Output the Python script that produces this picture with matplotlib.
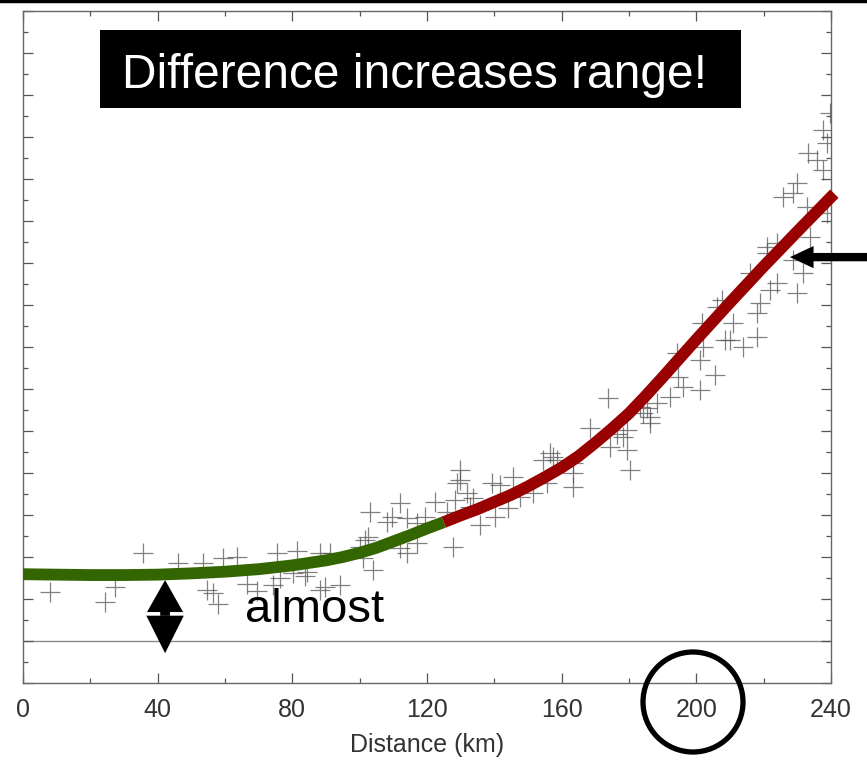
import matplotlib
matplotlib.use('Agg')
import matplotlib.pyplot as plt
from matplotlib.patches import Rectangle, Ellipse

plt.rcParams['font.family'] = ['Liberation Sans', 'DejaVu Sans']

# ---- data ----
scatter_km = [8.0, 24.4, 27.3, 35.6, 46.0, 53.5, 59.4, 63.6, 54.6, 56.4, 57.9,
              66.5, 69.5, 75.4, 81.4, 80.2, 74.3, 83.8, 76.3, 88.2, 91.2, 88.2,
              94.1, 84.3, 89.7,
              100.1, 101.0, 101.6, 102.5, 103.1, 104.0, 108.1, 109.6, 112.0, 114.0,
              117.0, 119.4, 122.4, 112.0, 114.0, 117.0, 125.9, 129.8, 129.8, 128.9,
              131.9, 133.7, 128.3, 127.7, 132.8, 135.7, 139.3, 141.7, 145.5, 140.2,
              144.0, 147.6, 151.5, 155.6, 154.4, 157.4, 156.5, 158.6, 163.4, 163.4,
              163.4,
              168.4, 173.7, 174.3, 176.4, 178.2, 179.4, 180.3, 179.4, 184.1, 185.3,
              186.2, 188.3, 192.2, 196.0, 201.1, 186.2, 183.3, 194.2, 194.5, 201.1,
              201.6, 205.5, 206.1, 207.6, 208.5, 202.0,
              239.7, 237.6, 238.8, 233.2, 235.8, 237.6, 229.9, 225.7, 228.7, 232.9,
              238.8, 221.0, 223.9, 221.0, 228.7, 231.7, 233.7, 229.9, 223.9, 221.9,
              215.9, 218.9, 210.9, 210.0, 218.0, 213.8, 218.0]
scatter_val = [2.17, 1.93, 2.29, 3.10, 2.86, 2.86, 2.98, 3.00, 2.21, 2.14, 1.88,
               2.36, 2.19, 3.10, 3.15, 2.62, 2.33, 2.55, 2.50, 3.10, 3.10, 2.21,
               2.33, 2.64, 2.29,
               3.24, 2.98, 3.40, 3.48, 4.07, 2.69, 3.83, 3.95, 4.29, 3.93,
               3.81, 3.95, 4.31, 3.21, 3.10, 3.33, 4.07, 5.07, 4.83, 4.76,
               4.52, 4.40, 4.36, 3.24, 4.19, 3.76, 4.76, 4.71, 4.90, 3.95,
               4.17, 4.43, 4.52, 4.76, 5.31, 5.38, 5.48, 5.31, 5.00, 4.67,
               5.24,
               6.07, 6.79, 5.62, 5.93, 5.86, 6.02, 5.07, 5.55, 6.43, 6.55,
               6.33, 6.67, 6.81, 7.05, 6.98, 6.19, 6.57, 7.86, 7.29, 7.69,
               8.57, 7.33, 8.95, 9.12, 8.17, 8.00,
               13.57, 13.17, 12.86, 12.62, 12.45, 12.21, 11.90, 11.57, 11.67, 11.33,
               11.19, 10.38, 10.48, 10.24, 10.07, 9.76, 10.62, 9.29, 9.52, 9.36,
               9.76, 9.05, 8.57, 8.17, 8.24, 8.00, 8.81]

# fitted curve, green part (near) and red part (far)
near_km = [0, 10, 20, 30, 40, 50, 60, 70, 80, 90, 95, 100, 105, 110, 115, 120, 125]
near_val = [2.59, 2.58, 2.57, 2.57, 2.58, 2.61, 2.65, 2.71, 2.80, 2.92, 3.00,
            3.10, 3.22, 3.37, 3.52, 3.68, 3.83]
far_km = [125, 130, 135, 140, 145, 150, 155, 160, 165, 170, 175, 180, 185, 190,
          195, 200, 210, 220, 230, 240, 241]
far_val = [3.83, 3.99, 4.14, 4.31, 4.48, 4.68, 4.90, 5.13, 5.40, 5.72, 6.06,
           6.42, 6.84, 7.28, 7.73, 8.18, 9.06, 9.92, 10.75, 11.57, 11.65]

x_ticks = [0, 40, 80, 120, 160, 200, 240]
baseline_val = 1.0

# ---- figure ----
fig = plt.figure(figsize=(8.67, 7.63), dpi=100)
ax = fig.add_axes([23 / 867, 80 / 763, 808 / 867, 672 / 763])

ax.plot(scatter_km, scatter_val, ls='none', marker='+', ms=14, mew=0.9,
        color='#555555', alpha=0.75, zorder=2)
ax.axhline(baseline_val, color='#8a8a8a', lw=1.0, zorder=1)

ax.plot(near_km, near_val, color='#336600', lw=8.5, solid_capstyle='butt',
        solid_joinstyle='round', zorder=4)
ax.plot(far_km, far_val, color='#990000', lw=8.5, solid_capstyle='butt',
        solid_joinstyle='round', zorder=4, clip_on=False)

ax.set_xlim(0, 240)
ax.set_ylim(0, 16)
ax.set_xticks(x_ticks)
ax.set_xticks(range(20, 240, 40), minor=True)
ax.set_yticks(range(0, 17))
ax.set_yticks([i + 0.5 for i in range(16)], minor=True)
ax.set_yticklabels([])
ax.tick_params(which='both', direction='in', top=True, right=True,
               color='#555555', width=0.9)
ax.tick_params(which='major', length=7)
ax.tick_params(which='minor', length=3.5)
ax.tick_params(axis='x', labelsize=18, labelcolor='#333333', pad=11)
for sp in ax.spines.values():
    sp.set_color('#666666')
    sp.set_linewidth(1.0)
ax.set_xlabel('Distance (km)', fontsize=18, color='#333333', labelpad=8)

# ---- annotations ----
# double arrow below the curve
ax.annotate('', xy=(42.2, 2.45), xytext=(42.2, 1.60),
            arrowprops=dict(arrowstyle='simple,head_length=23,head_width=26,tail_width=7',
                            mutation_scale=1, color='black', lw=0,
                            shrinkA=0, shrinkB=0), zorder=6)
ax.annotate('', xy=(42.2, 0.71), xytext=(42.2, 1.55),
            arrowprops=dict(arrowstyle='simple,head_length=27,head_width=27,tail_width=7',
                            mutation_scale=1, color='black', lw=0,
                            shrinkA=0, shrinkB=0), zorder=6)
# arrow from the right edge
ax.annotate('', xy=(227.8, 10.14), xytext=(252, 10.14),
            arrowprops=dict(arrowstyle='simple,head_length=17,head_width=16,tail_width=6',
                            mutation_scale=1, color='black', lw=0,
                            shrinkA=0, shrinkB=0),
            annotation_clip=False, zorder=6)

fig.text(245 / 867, 1 - 622 / 763, 'almost', fontsize=34, color='black',
         ha='left', va='baseline')

fig.add_artist(Rectangle((100 / 867, 1 - 108 / 763), 641 / 867, 78 / 763,
                         transform=fig.transFigure, facecolor='black',
                         edgecolor='none'))
fig.text(122 / 867, 1 - 88 / 763, 'Difference increases range!', fontsize=34.5,
         color='white', ha='left', va='baseline')

fig.add_artist(Ellipse((693 / 867, 1 - 702 / 763), 100 / 867, 100 / 763,
                       transform=fig.transFigure, facecolor='none',
                       edgecolor='black', lw=3.8))

fig.add_artist(plt.Line2D([0, 1], [1 - 1 / 763, 1 - 1 / 763],
                          transform=fig.transFigure, color='black', lw=2.5))

fig.savefig('out.png', dpi=100)
